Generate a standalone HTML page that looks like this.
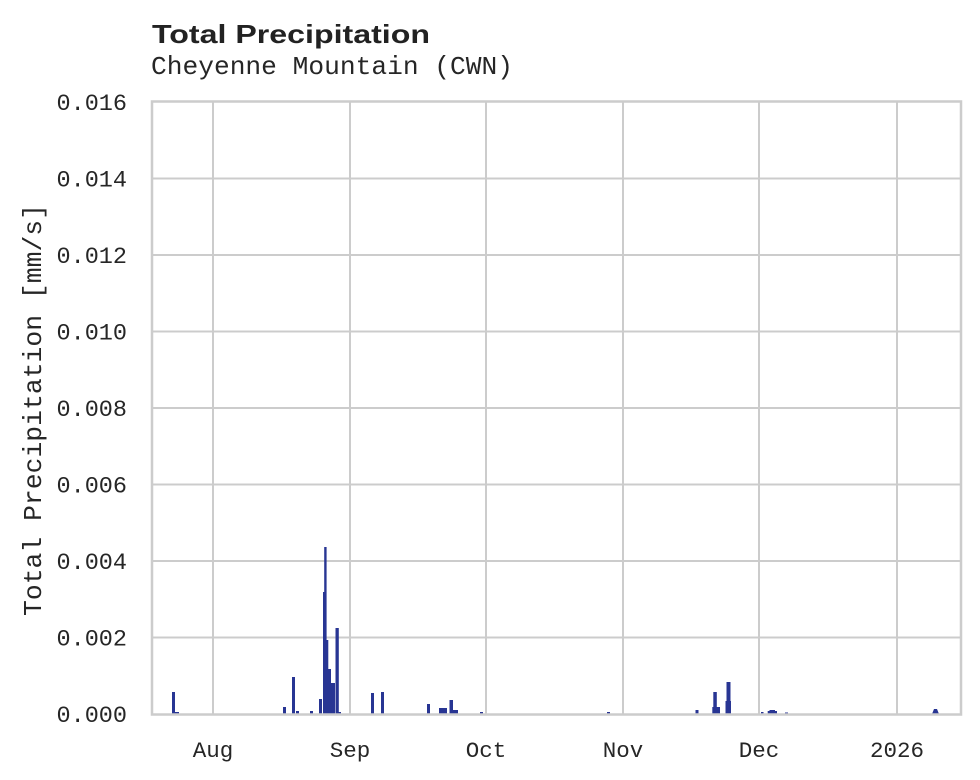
<!DOCTYPE html>
<html>
<head>
<meta charset="utf-8">
<style>
  html, body { margin: 0; padding: 0; background: #ffffff; }
  svg { display: block; }
  .mono { font-family: "Liberation Mono", "DejaVu Sans Mono", monospace; fill: #262626; }
  .title { font-family: "Liberation Sans", "DejaVu Sans", sans-serif; font-weight: bold; fill: #222222; }
</style>
</head>
<body>
<svg width="980" height="780" viewBox="0 0 980 780" xmlns="http://www.w3.org/2000/svg">
  <rect x="0" y="0" width="980" height="780" fill="#ffffff"/>

  <!-- Title -->
  <text class="title" x="152" y="43" font-size="26" textLength="278" lengthAdjust="spacingAndGlyphs">Total Precipitation</text>
  <text class="mono" x="151" y="74" font-size="26" textLength="362" lengthAdjust="spacingAndGlyphs">Cheyenne Mountain (CWN)</text>

  <!-- Grid horizontal -->
  <g stroke="#cccccc" stroke-width="2">
    <line x1="152" y1="637.5" x2="961" y2="637.5"/>
    <line x1="152" y1="561" x2="961" y2="561"/>
    <line x1="152" y1="484.5" x2="961" y2="484.5"/>
    <line x1="152" y1="408" x2="961" y2="408"/>
    <line x1="152" y1="331.5" x2="961" y2="331.5"/>
    <line x1="152" y1="255" x2="961" y2="255"/>
    <line x1="152" y1="178.5" x2="961" y2="178.5"/>
    <!-- vertical -->
    <line x1="213" y1="102" x2="213" y2="714"/>
    <line x1="350" y1="102" x2="350" y2="714"/>
    <line x1="486" y1="102" x2="486" y2="714"/>
    <line x1="623" y1="102" x2="623" y2="714"/>
    <line x1="759" y1="102" x2="759" y2="714"/>
    <line x1="897" y1="102" x2="897" y2="714"/>
  </g>

  <!-- Bars -->
  <g fill="#283593">
    <rect x="172" y="692" width="3" height="22"/>
    <rect x="175" y="712" width="4" height="2"/>
    <rect x="283" y="707" width="3" height="7"/>
    <rect x="292" y="677" width="3" height="37"/>
    <rect x="296" y="711" width="3" height="3"/>
    <rect x="310" y="711" width="3" height="3"/>
    <rect x="319" y="699" width="3" height="15"/>
    <rect x="323" y="592" width="2" height="122"/>
    <rect x="324.2" y="547" width="2.4" height="167"/>
    <rect x="326.5" y="640" width="1.8" height="74"/>
    <rect x="328" y="669" width="3" height="45"/>
    <rect x="331" y="683" width="4" height="31"/>
    <rect x="335.5" y="628" width="3.3" height="86"/>
    <rect x="338.5" y="712" width="2.5" height="2"/>
    <rect x="371" y="693" width="3" height="21"/>
    <rect x="381" y="692" width="3" height="22"/>
    <rect x="427" y="704" width="3" height="10"/>
    <rect x="439" y="708" width="4" height="6"/>
    <rect x="443" y="708" width="4" height="6"/>
    <rect x="449.5" y="700" width="3.5" height="14"/>
    <rect x="453" y="710" width="5" height="4"/>
    <rect x="480" y="712" width="3" height="2"/>
    <rect x="607" y="712" width="3" height="2"/>
    <rect x="695.5" y="710" width="3" height="4"/>
    <rect x="713.3" y="692" width="3.5" height="22"/>
    <rect x="712.3" y="707" width="7.7" height="7"/>
    <rect x="726.5" y="682" width="4" height="32"/>
    <rect x="725.5" y="701" width="5.5" height="13"/>
    <rect x="761" y="712" width="2.5" height="2"/>
    <rect x="767.7" y="711" width="9.3" height="3"/>
    <rect x="769.5" y="710" width="5.5" height="4"/>
    <rect x="785" y="712.5" width="3" height="1.5"/>
    <polygon points="932,714 934,709 937,709 939,714"/>
  </g>

  <!-- Frame -->
  <rect x="152" y="101.5" width="809" height="613" fill="none" stroke="#cccccc" stroke-width="2.5"/>

  <!-- Y tick labels -->
  <g class="mono" font-size="23.5" text-anchor="end">
    <text x="127" y="722">0.000</text>
    <text x="127" y="645.5">0.002</text>
    <text x="127" y="569">0.004</text>
    <text x="127" y="492.5">0.006</text>
    <text x="127" y="416">0.008</text>
    <text x="127" y="339.5">0.010</text>
    <text x="127" y="263">0.012</text>
    <text x="127" y="186.5">0.014</text>
    <text x="127" y="110">0.016</text>
  </g>

  <!-- X tick labels -->
  <g class="mono" font-size="22.5" text-anchor="middle">
    <text x="213" y="757">Aug</text>
    <text x="350" y="757">Sep</text>
    <text x="486" y="757">Oct</text>
    <text x="623" y="757">Nov</text>
    <text x="759" y="757">Dec</text>
    <text x="897" y="757">2026</text>
  </g>

  <!-- Y axis label -->
  <text class="mono" font-size="26" text-anchor="middle" transform="translate(41,410) rotate(-90)" textLength="412" lengthAdjust="spacingAndGlyphs">Total Precipitation [mm/s]</text>
</svg>
</body>
</html>
